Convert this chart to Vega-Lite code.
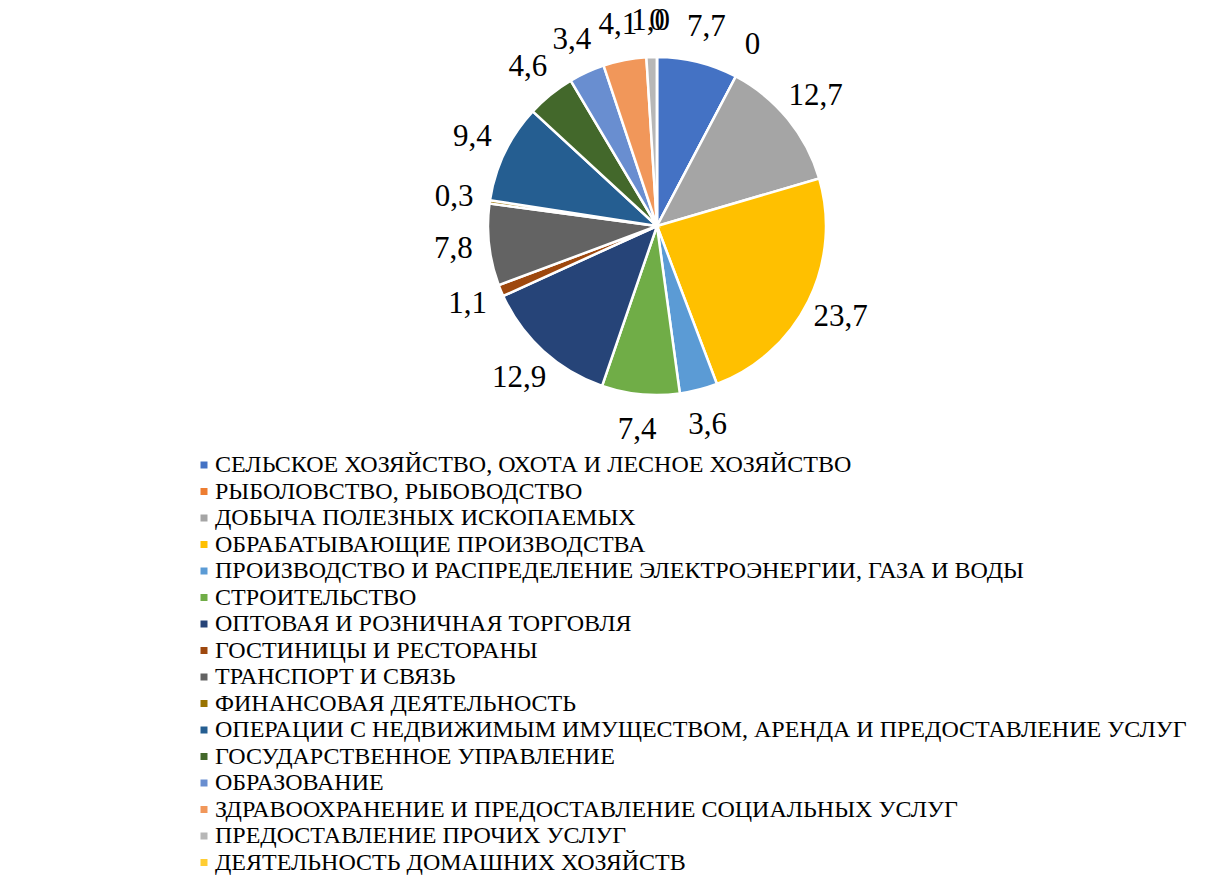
{
  "$schema": "https://vega.github.io/schema/vega-lite/v6.json",
  "width": 1138,
  "height": 452,
  "autosize": {"type": "none"},
  "padding": {"left": 88, "top": 0, "right": 0, "bottom": 433},
  "background": "white",
  "config": {"view": {"stroke": null}},
  "data": {
    "values": [
      {"i": 1, "cat": "СЕЛЬСКОЕ ХОЗЯЙСТВО, ОХОТА И ЛЕСНОЕ ХОЗЯЙСТВО", "v": 7.7, "label": "7,7"},
      {"i": 2, "cat": "РЫБОЛОВСТВО, РЫБОВОДСТВО", "v": 0, "label": "0"},
      {"i": 3, "cat": "ДОБЫЧА ПОЛЕЗНЫХ ИСКОПАЕМЫХ", "v": 12.7, "label": "12,7"},
      {"i": 4, "cat": "ОБРАБАТЫВАЮЩИЕ ПРОИЗВОДСТВА", "v": 23.7, "label": "23,7"},
      {"i": 5, "cat": "ПРОИЗВОДСТВО И РАСПРЕДЕЛЕНИЕ ЭЛЕКТРОЭНЕРГИИ, ГАЗА И ВОДЫ", "v": 3.6, "label": "3,6"},
      {"i": 6, "cat": "СТРОИТЕЛЬСТВО", "v": 7.4, "label": "7,4"},
      {"i": 7, "cat": "ОПТОВАЯ И РОЗНИЧНАЯ ТОРГОВЛЯ", "v": 12.9, "label": "12,9"},
      {"i": 8, "cat": "ГОСТИНИЦЫ И РЕСТОРАНЫ", "v": 1.1, "label": "1,1"},
      {"i": 9, "cat": "ТРАНСПОРТ И СВЯЗЬ", "v": 7.8, "label": "7,8"},
      {"i": 10, "cat": "ФИНАНСОВАЯ ДЕЯТЕЛЬНОСТЬ", "v": 0.3, "label": "0,3"},
      {"i": 11, "cat": "ОПЕРАЦИИ С НЕДВИЖИМЫМ ИМУЩЕСТВОМ, АРЕНДА И ПРЕДОСТАВЛЕНИЕ УСЛУГ", "v": 9.4, "label": "9,4"},
      {"i": 12, "cat": "ГОСУДАРСТВЕННОЕ УПРАВЛЕНИЕ", "v": 4.6, "label": "4,6"},
      {"i": 13, "cat": "ОБРАЗОВАНИЕ", "v": 3.4, "label": "3,4"},
      {"i": 14, "cat": "ЗДРАВООХРАНЕНИЕ И ПРЕДОСТАВЛЕНИЕ СОЦИАЛЬНЫХ УСЛУГ", "v": 4.1, "label": "4,1"},
      {"i": 15, "cat": "ПРЕДОСТАВЛЕНИЕ ПРОЧИХ УСЛУГ", "v": 1.0, "label": "1,0"},
      {"i": 16, "cat": "ДЕЯТЕЛЬНОСТЬ ДОМАШНИХ ХОЗЯЙСТВ", "v": 0, "label": "0"}
    ]
  },
  "encoding": {
    "theta": {"field": "v", "type": "quantitative", "stack": true},
    "order": {"field": "i", "type": "quantitative"}
  },
  "layer": [
    {
      "mark": {"type": "arc", "outerRadius": 169, "stroke": "white", "strokeWidth": 2.5},
      "encoding": {
        "color": {
          "field": "cat",
          "type": "nominal",
          "scale": {
            "domain": [
              "СЕЛЬСКОЕ ХОЗЯЙСТВО, ОХОТА И ЛЕСНОЕ ХОЗЯЙСТВО",
              "РЫБОЛОВСТВО, РЫБОВОДСТВО",
              "ДОБЫЧА ПОЛЕЗНЫХ ИСКОПАЕМЫХ",
              "ОБРАБАТЫВАЮЩИЕ ПРОИЗВОДСТВА",
              "ПРОИЗВОДСТВО И РАСПРЕДЕЛЕНИЕ ЭЛЕКТРОЭНЕРГИИ, ГАЗА И ВОДЫ",
              "СТРОИТЕЛЬСТВО",
              "ОПТОВАЯ И РОЗНИЧНАЯ ТОРГОВЛЯ",
              "ГОСТИНИЦЫ И РЕСТОРАНЫ",
              "ТРАНСПОРТ И СВЯЗЬ",
              "ФИНАНСОВАЯ ДЕЯТЕЛЬНОСТЬ",
              "ОПЕРАЦИИ С НЕДВИЖИМЫМ ИМУЩЕСТВОМ, АРЕНДА И ПРЕДОСТАВЛЕНИЕ УСЛУГ",
              "ГОСУДАРСТВЕННОЕ УПРАВЛЕНИЕ",
              "ОБРАЗОВАНИЕ",
              "ЗДРАВООХРАНЕНИЕ И ПРЕДОСТАВЛЕНИЕ СОЦИАЛЬНЫХ УСЛУГ",
              "ПРЕДОСТАВЛЕНИЕ ПРОЧИХ УСЛУГ",
              "ДЕЯТЕЛЬНОСТЬ ДОМАШНИХ ХОЗЯЙСТВ"
            ],
            "range": ["#4472C4", "#ED7D31", "#A5A5A5", "#FFC000", "#5B9BD5", "#70AD47", "#264478", "#9E480E", "#636363", "#997300", "#255E91", "#43682B", "#698ED0", "#F1975A", "#B7B7B7", "#FFCD33"]
          },
          "legend": {
            "title": null,
            "orient": "none",
            "legendX": 104,
            "legendY": 453,
            "direction": "vertical",
            "symbolType": "square",
            "symbolSize": 49,
            "symbolStrokeWidth": 0,
            "labelFont": "Liberation Serif",
            "labelFontSize": 24,
            "labelColor": "black",
            "labelLimit": 1200,
            "labelOffset": -1,
            "rowPadding": 2.5,
            "padding": 0
          }
        }
      }
    },
    {
      "mark": {"type": "text", "radius": 205, "font": "Liberation Serif", "fontSize": 31, "color": "black", "baseline": "middle", "align": "center"},
      "encoding": {"text": {"field": "label", "type": "nominal"}}
    }
  ]
}
